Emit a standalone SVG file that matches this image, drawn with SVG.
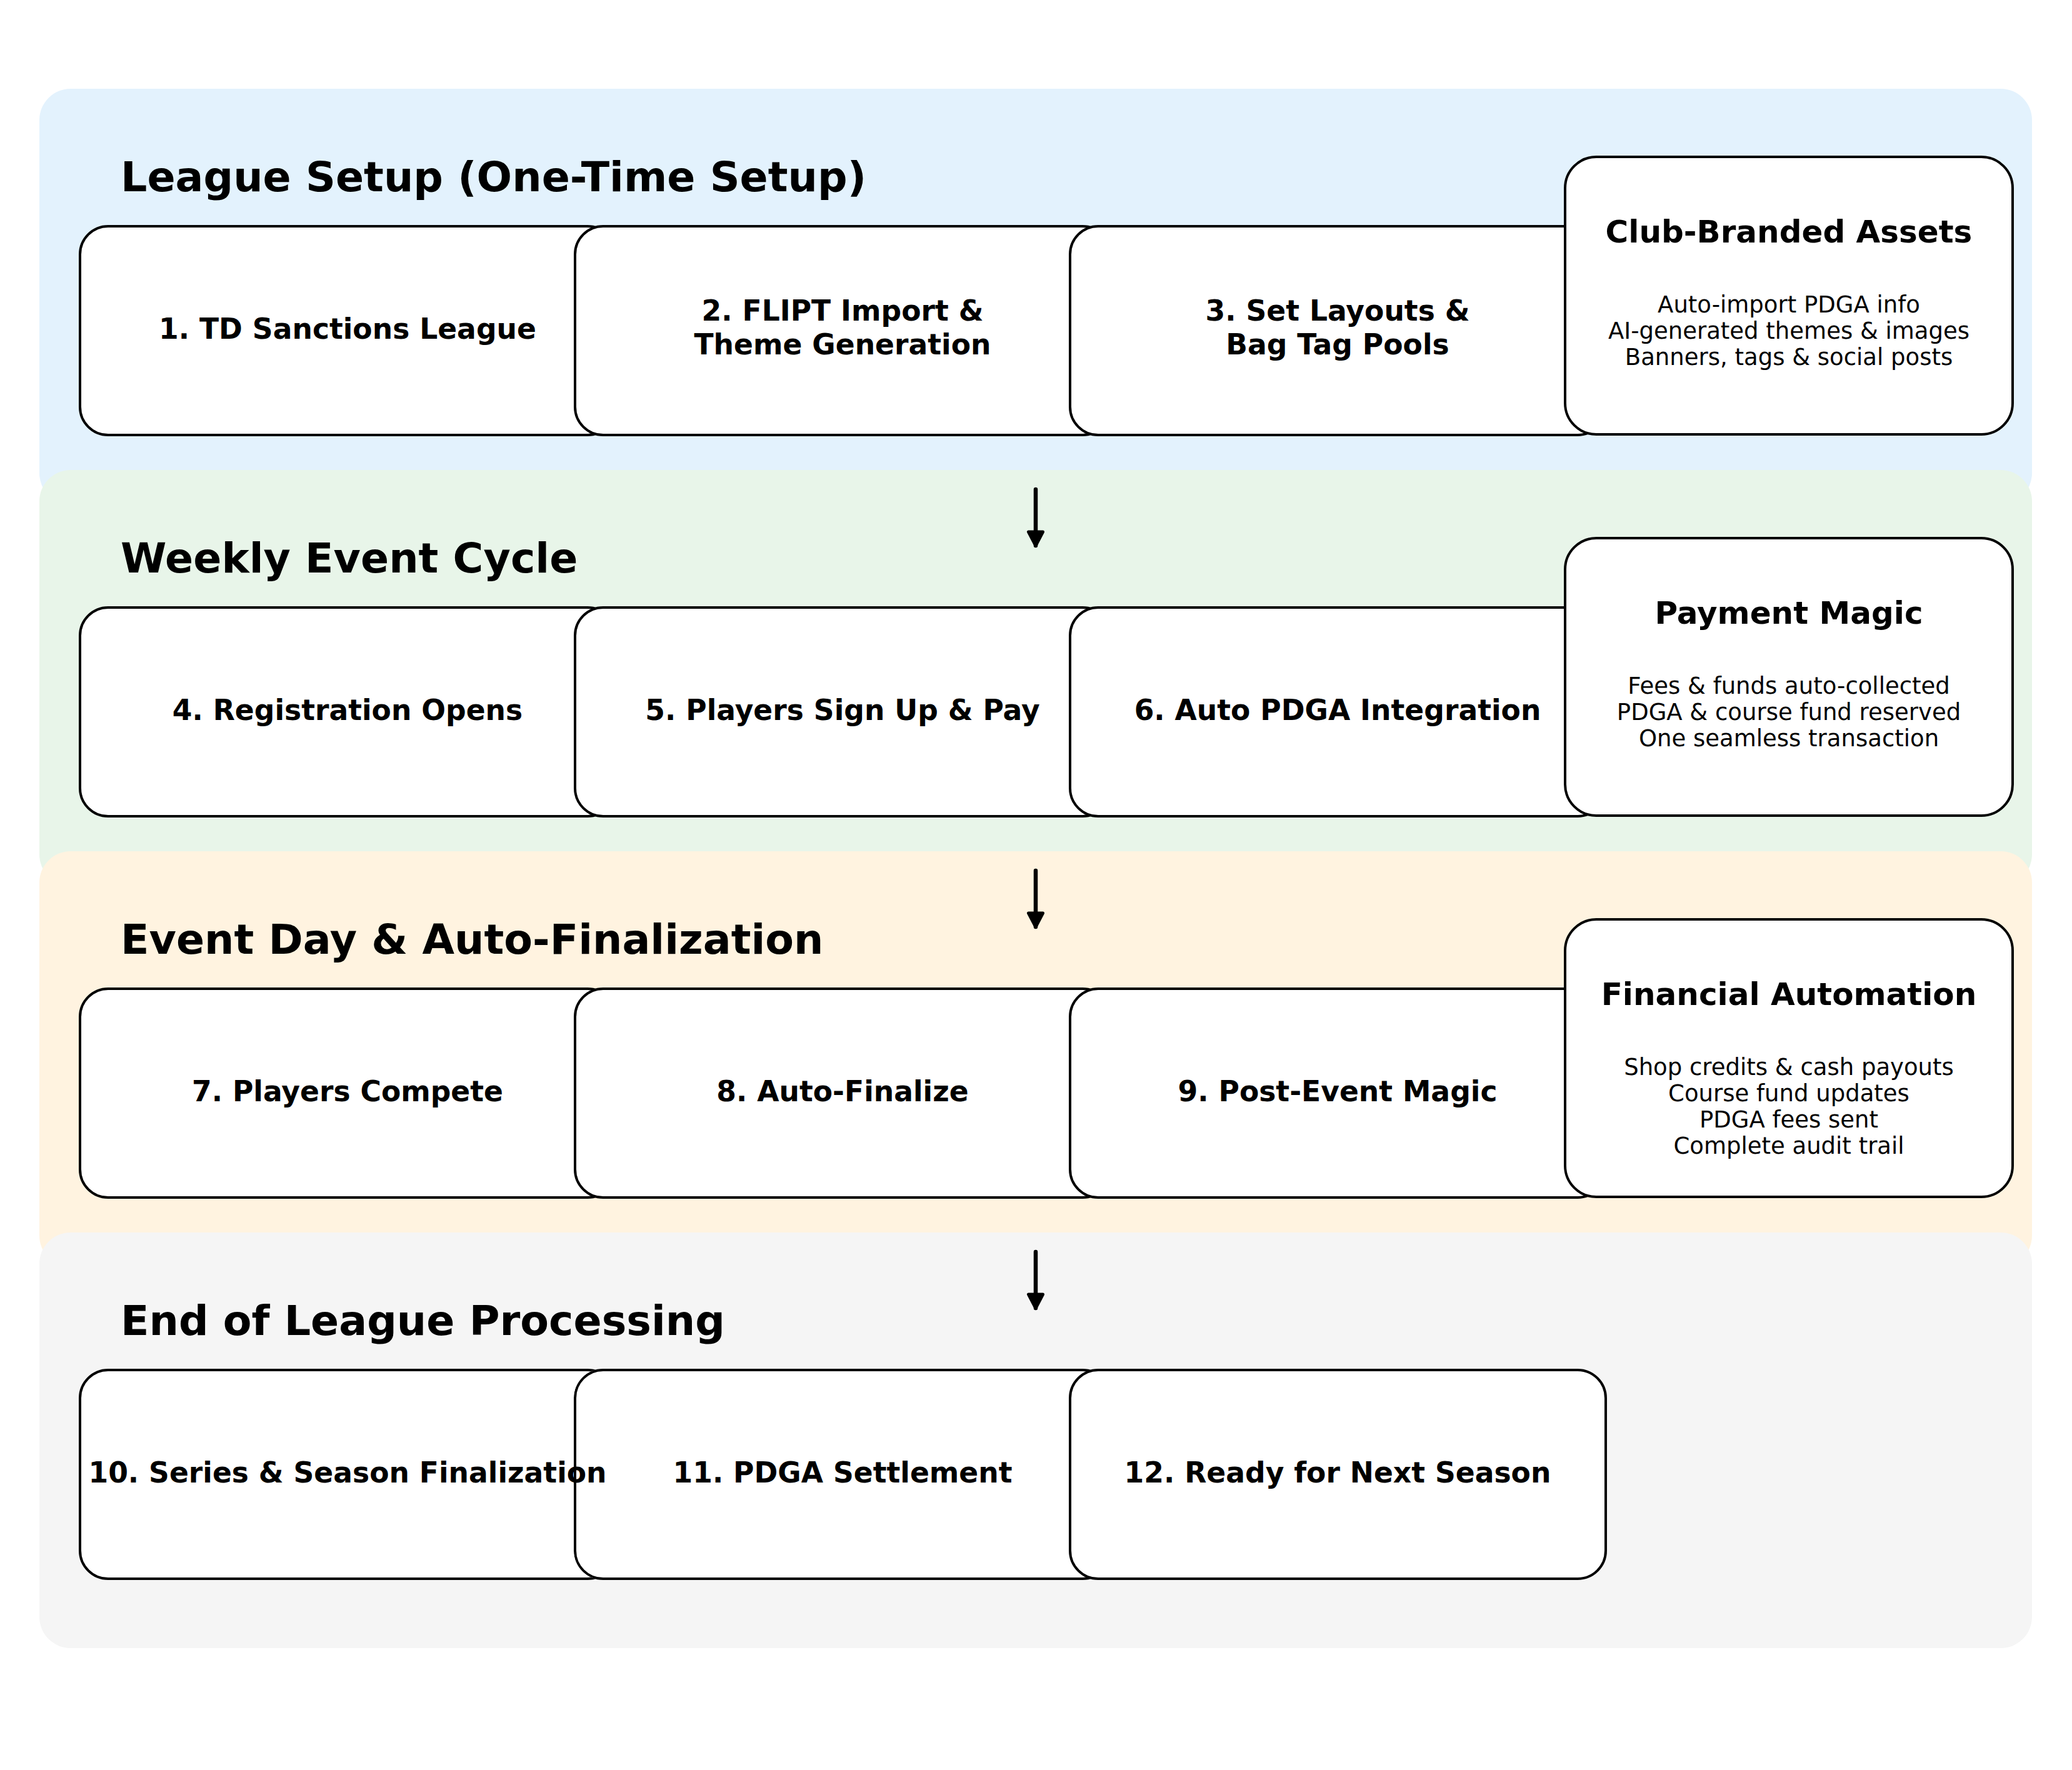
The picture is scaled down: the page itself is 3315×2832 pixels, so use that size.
<svg xmlns="http://www.w3.org/2000/svg" width="3315" height="2832" viewBox="0 0 3315 2832">
<style>
.panel{stroke:none}
.box{fill:#ffffff;stroke:#000000;stroke-width:4}
.ptitle{font-family:"DejaVu Sans","Liberation Sans",sans-serif;font-weight:bold;font-size:66.6px;fill:#000}
.label{font-family:"DejaVu Sans","Liberation Sans",sans-serif;font-weight:bold;font-size:45.6px;fill:#000;text-anchor:middle}
.stitle{font-family:"DejaVu Sans","Liberation Sans",sans-serif;font-weight:bold;font-size:50px;fill:#000;text-anchor:middle}
.body{font-family:"DejaVu Sans","Liberation Sans",sans-serif;font-size:37px;fill:#000;text-anchor:middle}
.conn{stroke:#000;stroke-width:6.5;stroke-linecap:round;fill:none}
</style>
<defs>
<marker id="arrow" viewBox="0 0 32 32" refX="28" refY="16" markerWidth="32" markerHeight="32" markerUnits="userSpaceOnUse" orient="auto">
<path d="M6 4.5 L28 16 L6 27.5 Z" fill="#000" stroke="#000" stroke-width="5" stroke-linejoin="round"/>
</marker>
<clipPath id="under-step-11">
<path clip-rule="evenodd" d="M0 0H3315V2832H0Z M965 2190 H1732 A47 47 0 0 1 1779 2237 V2481 A47 47 0 0 1 1732 2528 H965 A47 47 0 0 1 918 2481 V2237 A47 47 0 0 1 965 2190 Z"/>
</clipPath>
</defs>
<rect width="3315" height="2832" fill="#ffffff"/>

<g id="panel-setup">
<rect class="panel" x="63" y="142" width="3188" height="665" rx="50" fill="#E3F2FD"/>
<text class="ptitle" x="193" y="306">League Setup (One-Time Setup)</text>
</g>
<g id="panel-weekly">
<rect class="panel" x="63" y="752" width="3188" height="665" rx="50" fill="#E8F5E9"/>
<text class="ptitle" x="193" y="916">Weekly Event Cycle</text>
</g>
<g id="panel-eventday">
<rect class="panel" x="63" y="1362" width="3188" height="665" rx="50" fill="#FFF3E0"/>
<text class="ptitle" x="193" y="1526">Event Day &amp; Auto-Finalization</text>
</g>
<g id="panel-end">
<rect class="panel" x="63" y="1972" width="3188" height="665" rx="50" fill="#F5F5F5"/>
<text class="ptitle" x="193" y="2136">End of League Processing</text>
</g>

<g id="connectors">
<line class="conn" x1="1657" y1="783" x2="1657" y2="873" marker-end="url(#arrow)"/>
<line class="conn" x1="1657" y1="1393" x2="1657" y2="1483" marker-end="url(#arrow)"/>
<line class="conn" x1="1657" y1="2003" x2="1657" y2="2093" marker-end="url(#arrow)"/>
</g>

<g id="step-1"><rect class="box" x="128" y="362" width="857" height="334" rx="45"/><text class="label" x="556" y="542">1. TD Sanctions League</text></g>
<g id="step-2"><rect class="box" x="920" y="362" width="857" height="334" rx="45"/><text class="label" x="1348" y="513">2. FLIPT Import &amp;</text><text class="label" x="1348" y="567">Theme Generation</text></g>
<g id="step-3"><rect class="box" x="1712" y="362" width="857" height="334" rx="45"/><text class="label" x="2140" y="513">3. Set Layouts &amp;</text><text class="label" x="2140" y="567">Bag Tag Pools</text></g>
<g id="club-branded-assets"><rect class="box" x="2504" y="251" width="716" height="444" rx="50"/><text class="stitle" x="2862" y="388">Club-Branded Assets</text><text class="body" x="2862" y="500">Auto-import PDGA info</text><text class="body" x="2862" y="542">AI-generated themes &amp; images</text><text class="body" x="2862" y="584">Banners, tags &amp; social posts</text></g>

<g id="step-4"><rect class="box" x="128" y="972" width="857" height="334" rx="45"/><text class="label" x="556" y="1152">4. Registration Opens</text></g>
<g id="step-5"><rect class="box" x="920" y="972" width="857" height="334" rx="45"/><text class="label" x="1348" y="1152">5. Players Sign Up &amp; Pay</text></g>
<g id="step-6"><rect class="box" x="1712" y="972" width="857" height="334" rx="45"/><text class="label" x="2140" y="1152">6. Auto PDGA Integration</text></g>
<g id="payment-magic"><rect class="box" x="2504" y="861" width="716" height="444" rx="50"/><text class="stitle" x="2862" y="998">Payment Magic</text><text class="body" x="2862" y="1110">Fees &amp; funds auto-collected</text><text class="body" x="2862" y="1152">PDGA &amp; course fund reserved</text><text class="body" x="2862" y="1194">One seamless transaction</text></g>

<g id="step-7"><rect class="box" x="128" y="1582" width="857" height="334" rx="45"/><text class="label" x="556" y="1762">7. Players Compete</text></g>
<g id="step-8"><rect class="box" x="920" y="1582" width="857" height="334" rx="45"/><text class="label" x="1348" y="1762">8. Auto-Finalize</text></g>
<g id="step-9"><rect class="box" x="1712" y="1582" width="857" height="334" rx="45"/><text class="label" x="2140" y="1762">9. Post-Event Magic</text></g>
<g id="financial-automation"><rect class="box" x="2504" y="1471" width="716" height="444" rx="50"/><text class="stitle" x="2862" y="1608">Financial Automation</text><text class="body" x="2862" y="1720">Shop credits &amp; cash payouts</text><text class="body" x="2862" y="1762">Course fund updates</text><text class="body" x="2862" y="1804">PDGA fees sent</text><text class="body" x="2862" y="1846">Complete audit trail</text></g>

<g id="step-11"><rect class="box" x="920" y="2192" width="857" height="334" rx="45"/><text class="label" x="1348" y="2372">11. PDGA Settlement</text></g>
<g id="step-12"><rect class="box" x="1712" y="2192" width="857" height="334" rx="45"/><text class="label" x="2140" y="2372">12. Ready for Next Season</text></g>
<g id="step-10"><rect class="box" x="128" y="2192" width="857" height="334" rx="45" clip-path="url(#under-step-11)"/><text class="label" x="556" y="2372">10. Series &amp; Season Finalization</text></g>
</svg>
